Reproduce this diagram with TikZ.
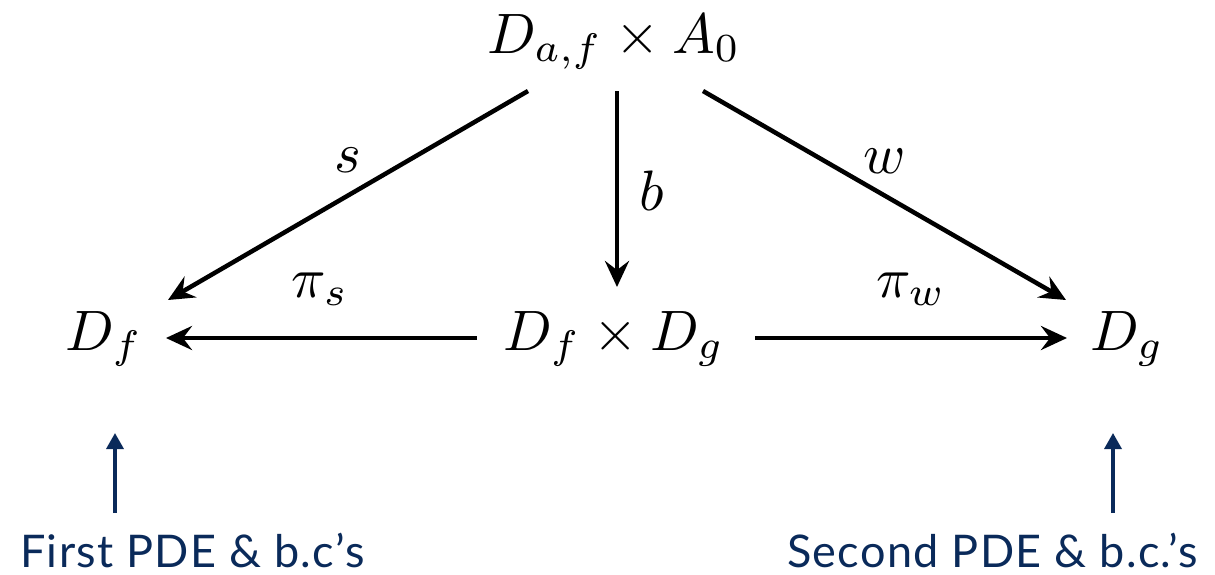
\documentclass[tikz,border=0pt]{standalone}
\usepackage{fontspec}
\newfontfamily\lato[LetterSpace=3]{Lato}
\usetikzlibrary{arrows.meta}
\definecolor{navy}{RGB}{10,42,90}
\begin{document}
\begin{tikzpicture}[x=1pt,y=-1pt,
  mathtxt/.style={anchor=base,inner sep=0pt,scale=5.7,font=\fontsize{10}{12}\selectfont},
  lbl/.style={anchor=base,inner sep=0pt,scale=5.7,font=\fontsize{10}{12}\selectfont},
  blue/.style={anchor=base west,inner sep=0pt,text=navy,font=\lato\fontsize{45}{50}\selectfont},
  arr/.style={line width=4.5pt,-{Stealth[length=26pt,width=24pt,inset=9pt]}},
  barr/.style={navy,line width=3.4pt,-{Triangle[length=16pt,width=17pt]}}]
\useasboundingbox (0,0) rectangle (1215,574);
% nodes
\node[mathtxt] (top) at (614,53) {$D_{a,f}\times A_0$};
\node[mathtxt] (Df) at (104,350) {$D_f$};
\node[mathtxt] (Dfg) at (614,350) {$D_f\times D_g$};
\node[mathtxt] (Dg) at (1127,350) {$D_g$};
% edge labels
\node[lbl] (ls) at (348,172) {$s$};
\node[lbl] (lb) at (652,210) {$b$};
\node[lbl] (lw) at (885,173) {$w$};
\node[lbl] (lps) at (320,297) {$\pi_s$};
\node[lbl] (lpw) at (911,297) {$\pi_w$};
% connector end points
\coordinate (s1) at (528,91);  \coordinate (s2) at (168,300);
\coordinate (b1) at (617,91);  \coordinate (b2) at (617,287);
\coordinate (w1) at (703,91);  \coordinate (w2) at (1066,300);
\coordinate (ps1) at (477,338); \coordinate (ps2) at (166,338);
\coordinate (pw1) at (755,338); \coordinate (pw2) at (1067,338);
\draw[arr] (s1) -- (s2);
\draw[arr] (b1) -- (b2);
\draw[arr] (w1) -- (w2);
\draw[arr] (ps1) -- (ps2);
\draw[arr] (pw1) -- (pw2);
% blue notes
\node[blue] (first) at (20,567) {First PDE \& b.c’s};
\node[blue] (second) at (787,567) {Second PDE \& b.c.’s};
\coordinate (f1) at (115,513); \coordinate (f2) at (115,433);
\coordinate (g1) at (1113,513); \coordinate (g2) at (1113,433);
\draw[barr] (f1) -- (f2);
\draw[barr] (g1) -- (g2);
\end{tikzpicture}
\end{document}
